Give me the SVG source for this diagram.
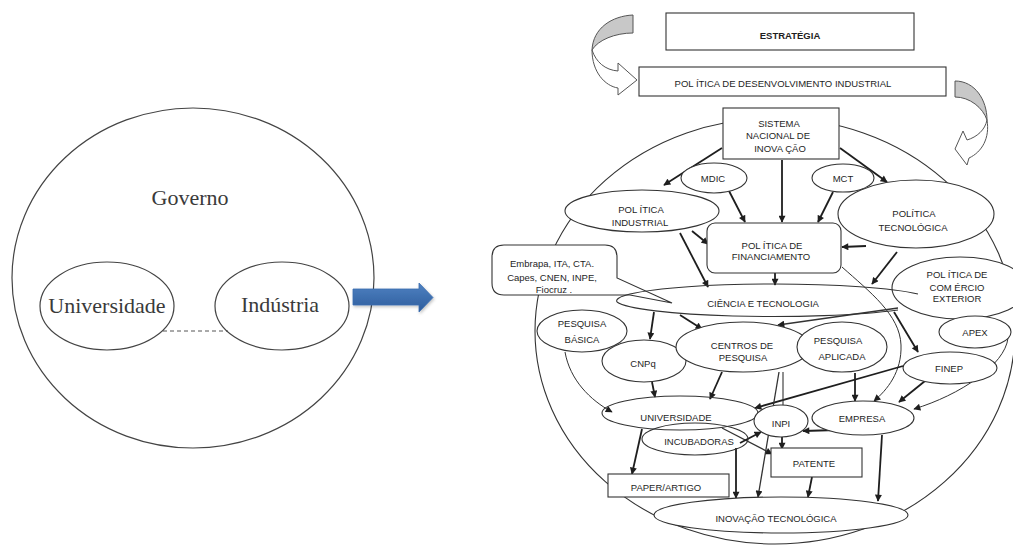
<svg xmlns="http://www.w3.org/2000/svg" width="1013" height="545" viewBox="0 0 1013 545">
  <defs>
    <style>
      .lt { font-family: "Liberation Serif", "Times New Roman", serif; font-size: 22px; fill: #3a3a3a; text-anchor: middle; }
      .lo { fill: none; stroke: #444; stroke-width: 1.2; }
      .n  { fill: #fff; stroke: #333; stroke-width: 1.1; }
      .nn { fill: none; stroke: #333; stroke-width: 1.1; }
      .t  { font-family: "Liberation Sans", Arial, sans-serif; font-size: 9.5px; fill: #1e1e1e; text-anchor: middle; }
      .tb { font-weight: bold; }
      .a  { fill: none; stroke: #1e1e1e; stroke-width: 1.8; marker-end: url(#ah); }
      .at { fill: none; stroke: #333; stroke-width: 1; marker-end: url(#ah); }
      .curl { stroke: #555; stroke-width: 1; }
    </style>
    <marker id="ah" viewBox="0 0 10 10" refX="9" refY="5" markerWidth="8" markerHeight="7" markerUnits="userSpaceOnUse" orient="auto">
      <path d="M0,0 L10,5 L0,10 Z" fill="#1e1e1e"/>
    </marker>
    <linearGradient id="blue" x1="0" y1="0" x2="0" y2="1">
      <stop offset="0" stop-color="#4f82c2"/>
      <stop offset="1" stop-color="#2d5c9c"/>
    </linearGradient>
    <filter id="soft" x="-20%" y="-40%" width="140%" height="180%">
      <feDropShadow dx="1" dy="1.5" stdDeviation="1.5" flood-color="#000" flood-opacity="0.25"/>
    </filter>
  </defs>

  <rect width="1013" height="545" fill="#fff"/>

  <!-- Triple helix: government circle containing university and industry -->
  <g id="governo">
    <ellipse class="lo" cx="193" cy="278" rx="181" ry="170"/>
    <text class="lt" x="190" y="205">Governo</text>
  </g>
  <g id="ligacao-ui">
    <line x1="163" y1="331" x2="228" y2="331" stroke="#555" stroke-width="1" stroke-dasharray="4,3"/>
  </g>
  <g id="universidade-th">
    <ellipse class="lo" cx="107" cy="306" rx="67" ry="44"/>
    <text class="lt" x="107" y="313">Universidade</text>
  </g>
  <g id="industria-th">
    <ellipse class="lo" cx="282" cy="306" rx="67" ry="44"/>
    <text class="lt" x="280" y="312">Indústria</text>
  </g>

  <!-- Block arrow leading to the detailed model -->
  <g id="seta-azul">
    <path d="M353,289 L419,289 L419,283 L433,297.5 L419,312 L419,305 L353,305 Z" fill="url(#blue)" stroke="#3b6db0" stroke-width="0.8" filter="url(#soft)"/>
  </g>

  <!-- Curled arrows between the top boxes -->
  <g id="seta-curva-esq">
    <path class="curl" d="M633,15 C612,16 593,28 592,50 C598,40 615,33 633,33 Z" fill="#c8c8c8"/>
    <path class="curl" d="M592,50 C592,72 605,86 618,88 L618,95 L637,80 L618,63 L618,71 C605,70 596,62 592,50 Z" fill="#fff"/>
  </g>
  <g id="seta-curva-dir">
    <path class="curl" d="M955,81 C975,81 987,100 987,120 C983,108 970,97 955,97 Z" fill="#c8c8c8"/>
    <path class="curl" d="M987,120 C990,138 982,152 969,158 L967,165 L955,149 L963,131 L967,140 C977,137 985,130 987,120 Z" fill="#fff"/>
  </g>

  <!-- Outer boundary of the innovation system -->
  <g id="fronteira">
    <ellipse class="nn" cx="775" cy="331" rx="240" ry="213"/>
  </g>

  <!-- Connectors -->
  <g id="conectores">
    <path class="a" d="M722,148 L664,185"/>
    <path class="a" d="M728,189 L745,222"/>
    <path class="a" d="M782,160 L782,222"/>
    <path class="a" d="M833,192 L818,222"/>
    <path class="a" d="M840,148 L887,182"/>
    <path class="a" d="M692,231 L708,244"/>
    <path class="a" d="M680,233 L708,287"/>
    <path class="a" d="M775,273 L775,285"/>
    <path class="a" d="M866,246 L842,247"/>
    <path class="a" d="M897,252 L872,284"/>
    <path class="at" d="M842,267 C870,292 900,315 901,345 C902,372 887,390 874,401"/>
    <path class="a" d="M654,312 L650,339"/>
    <path class="a" d="M680,315 L702,329"/>
    <path class="at" d="M898,308 L778,325" style="stroke-width:1.3"/>
    <path class="a" d="M894,312 L918,352"/>
    <path class="a" d="M925,381 L899,402"/>
    <path class="a" d="M903,366 L755,408"/>
    <path class="a" d="M855,373 L855,401"/>
    <path class="at" d="M1008,338 C1005,365 960,395 914,409"/>
    <path class="a" d="M837,430 L803,431"/>
    <path class="a" d="M722,372 L710,399"/>
    <path class="a" d="M652,382 L655,397"/>
    <path class="at" d="M565,352 C570,380 590,400 612,412"/>
    <path class="a" d="M642,429 L632,474"/>
    <path class="at" d="M722,428 L772,454" style="stroke-width:1.3"/>
    <path class="a" d="M740,443 L761,432"/>
    <path class="a" d="M736,448 L736,498"/>
    <path class="at" d="M779,372 L758,497" style="stroke-width:1.3"/>
    <path class="nn" d="M783,372 L783,405"/>
    <path class="a" d="M782,437 L782,449"/>
    <path class="a" d="M812,477 L808,497"/>
    <path class="a" d="M882,435 L878,501"/>
  </g>

  <!-- Nodes -->
  <g id="estrategia">
    <rect class="n" x="666" y="13" width="248" height="37"/>
    <text class="t tb" x="790" y="38.5">ESTRATÉGIA</text>
  </g>
  <g id="politica-desenvolvimento">
    <rect class="n" x="639" y="67" width="307" height="29"/>
    <text class="t" x="783" y="86.5">POL ÍTICA DE DESENVOLVIMENTO INDUSTRIAL</text>
  </g>
  <g id="sistema-nacional">
    <rect class="n" x="723" y="108" width="116" height="51"/>
    <text class="t" x="779" y="126.5">SISTEMA</text>
    <text class="t" x="778" y="138.5">NACIONAL DE</text>
    <text class="t" x="780" y="151.5">INOVA ÇÃO</text>
  </g>
  <g id="mdic">
    <ellipse class="n" cx="714" cy="178" rx="33" ry="15"/>
    <text class="t" x="713" y="181.5">MDIC</text>
  </g>
  <g id="mct">
    <ellipse class="n" cx="843" cy="178" rx="31" ry="14"/>
    <text class="t" x="843" y="181.5">MCT</text>
  </g>
  <g id="politica-industrial">
    <ellipse class="n" cx="642" cy="211" rx="77" ry="21"/>
    <text class="t" x="641" y="212.5">POL ÍTICA</text>
    <text class="t" x="640" y="225.5">INDUSTRIAL</text>
  </g>
  <g id="politica-tecnologica">
    <ellipse class="n" cx="916" cy="214" rx="78" ry="34"/>
    <text class="t" x="914" y="216.5">POLÍTICA</text>
    <text class="t" x="913" y="230.5">TECNOLÓGICA</text>
  </g>
  <g id="politica-financiamento">
    <rect class="n" x="707" y="223" width="134" height="50" rx="8"/>
    <text class="t" x="772" y="248.5">POL ÍTICA DE</text>
    <text class="t" x="771" y="259.5">FINANCIAMENTO</text>
  </g>
  <g id="comercio-exterior">
    <ellipse class="n" cx="960" cy="288" rx="68" ry="31"/>
    <text class="t" x="957" y="277.5">POL ÍTICA DE</text>
    <text class="t" x="957" y="290.5">COM ÉRCIO</text>
    <text class="t" x="957" y="301.5">EXTERIOR</text>
  </g>
  <g id="instituicoes">
    <path class="n" d="M504,245 H605 Q617,245 617,257 V278 L672,303 L630,295 H504 Q492,295 492,283 V257 Q492,245 504,245 Z"/>
    <text class="t" x="552" y="266.5">Embrapa, ITA, CTA.</text>
    <text class="t" x="552" y="280.5">Capes, CNEN, INPE,</text>
    <text class="t" x="554" y="293">Fiocruz .</text>
  </g>
  <g id="ciencia-tecnologia">
    <path class="nn" d="M630,294 A158,17 0 0 1 918,294"/>
    <path class="nn" d="M617,302 A158,17 0 0 0 898,310"/>
    <path class="nn" d="M617,302 A158,17 0 0 1 630,294"/>
    <text class="t" x="763" y="306.5">CIÊNCIA E TECNOLOGIA</text>
  </g>
  <g id="pesquisa-basica">
    <ellipse class="n" cx="582" cy="331" rx="45" ry="21"/>
    <text class="t" x="582" y="326.5">PESQUISA</text>
    <text class="t" x="582" y="342.5">BÁSICA</text>
  </g>
  <g id="cnpq">
    <ellipse class="n" cx="644" cy="361" rx="42" ry="21"/>
    <text class="t" x="643" y="367">CNPq</text>
  </g>
  <g id="centros-pesquisa">
    <ellipse class="n" cx="743" cy="347" rx="67" ry="25"/>
    <text class="t" x="742" y="348.5">CENTROS DE</text>
    <text class="t" x="743" y="360.5">PESQUISA</text>
  </g>
  <g id="pesquisa-aplicada">
    <ellipse class="n" cx="842" cy="347" rx="45" ry="25"/>
    <text class="t" x="838" y="343.5">PESQUISA</text>
    <text class="t" x="842" y="359.5">APLICADA</text>
  </g>
  <g id="apex">
    <ellipse class="n" cx="975" cy="332" rx="36" ry="16"/>
    <text class="t" x="975" y="335.5">APEX</text>
  </g>
  <g id="finep">
    <ellipse class="n" cx="950" cy="368" rx="47" ry="16"/>
    <text class="t" x="949" y="371.5">FINEP</text>
  </g>
  <g id="universidade">
    <ellipse class="nn" cx="680" cy="413" rx="78" ry="17"/>
    <text class="t" x="676" y="420.5">UNIVERSIDADE</text>
  </g>
  <g id="incubadoras">
    <ellipse class="nn" cx="695" cy="439" rx="53" ry="16"/>
    <text class="t" x="699" y="444.5">INCUBADORAS</text>
  </g>
  <g id="inpi">
    <ellipse class="n" cx="781" cy="421" rx="27" ry="16"/>
    <text class="t" x="781" y="426.5">INPI</text>
  </g>
  <g id="empresa">
    <ellipse class="n" cx="863" cy="418" rx="51" ry="17"/>
    <text class="t" x="862" y="421.5">EMPRESA</text>
  </g>
  <g id="patente">
    <rect class="n" x="771" y="448" width="91" height="29"/>
    <text class="t" x="814" y="466.5">PATENTE</text>
  </g>
  <g id="paper-artigo">
    <rect class="n" x="608" y="474" width="121" height="23"/>
    <text class="t" x="666" y="490.5">PAPER/ARTIGO</text>
  </g>
  <g id="inovacao-tecnologica">
    <ellipse class="n" cx="781" cy="515" rx="127" ry="18"/>
    <text class="t" x="776" y="521.5">INOVAÇÃO TECNOLÓGICA</text>
  </g>
</svg>
